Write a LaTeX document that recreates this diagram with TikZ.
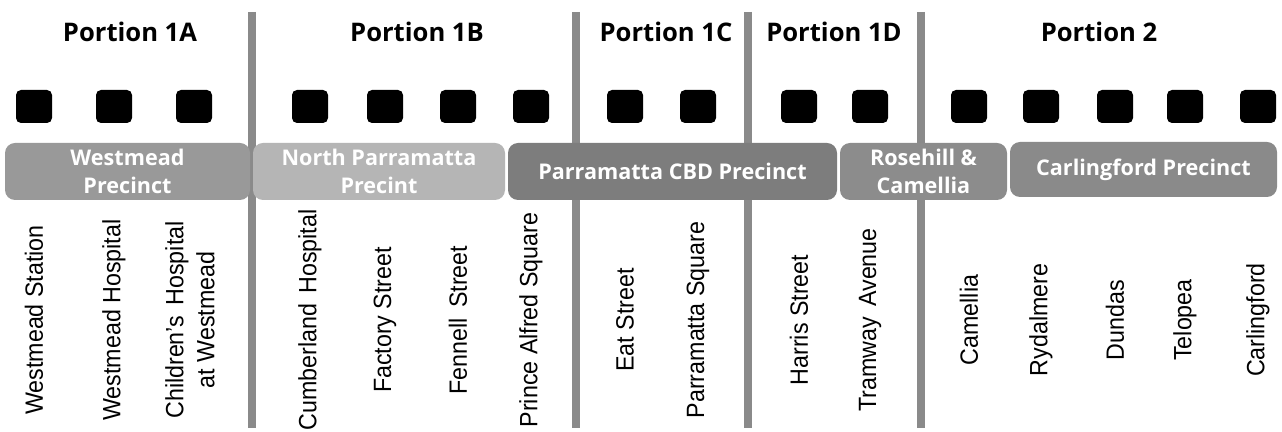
\documentclass[tikz,border=0pt]{standalone}
\usepackage{fontspec}
\setmainfont{Liberation Sans}
\newfontfamily\headfont{Open Sans}
\usetikzlibrary{positioning}
\definecolor{divgray}{HTML}{8A8A8A}
\tikzset{
  stopbox/.style={fill=black, rounded corners=2.5pt, minimum width=18pt, minimum height=16.5pt, inner sep=0pt},
  precinct/.style={rounded corners=5pt, text=white, align=center, inner sep=0pt, minimum height=28.5pt,
    font=\headfont\bfseries\fontsize{10.8}{14}\selectfont},
  station/.style={rotate=90, xscale=0.93, align=center, inner sep=0pt, font=\fontsize{12.5}{15.5}\selectfont},
  portion/.style={anchor=base, inner sep=0pt, font=\headfont\bfseries\fontsize{12.8}{15}\selectfont},
  divider/.style={line width=4pt, draw=divgray}
}
\begin{document}
\begin{tikzpicture}[x=0.5pt, y=-0.5pt]
\useasboundingbox[fill=white] (0,0) rectangle (1282,432);
% portion dividers
\foreach \x in {252,576,748,921} \draw[divider] (\x,12)--(\x,428);
% portion titles
\foreach \x/\t [count=\i] in {130/1A,417/1B,666/1C,834/1D,1099/2}
  \node[portion] (p\i) at (\x,42) {Portion \t};
% stops
\foreach \x [count=\i] in {34,114,194,310,385,458,531,625,698,799,870,969,1041,1115,1185,1258}
  \node[stopbox] (s\i) at (\x,106.5) {};
% precincts
\node[precinct, fill=black!40, minimum width=122.5pt] (wm) at (127.5,171.5) {Westmead\\Precinct};
\node[precinct, fill=black!29, minimum width=126pt] (np) at (379,171.5) {North Parramatta\\Precint};
\node[precinct, fill=black!51, minimum width=164.5pt] (cbd) at (672.5,171.5) {Parramatta CBD Precinct};
\node[precinct, fill=black!45, minimum width=83.5pt] (rc) at (923.5,171.5) {Rosehill \&\\Camellia};
\node[precinct, fill=black!46, minimum width=133.5pt, minimum height=27.5pt] (cp) at (1143.5,169.5) {Carlingford Precinct};
% station names
\foreach \x/\t [count=\i] in {34/{Westmead Station},114/{Westmead Hospital},190/{Children's\ \,Hospital\\at Westmead},
  310/{Cumberland\,\ Hospital},385/{Factory Street},458/{Fennell\ \,Street},531/{Prince Alfred Square},
  625/{Eat Street},698/{Parramatta Square},799/{Harris Street},870/{Tramway\ \,Avenue},
  969/{Camellia},1041/{Rydalmere},1115/{Dundas},1185/{Telopea},1258/{Carlingford}}
  \node[station] (n\i) at (\x,320) {\t};
\end{tikzpicture}
\end{document}
